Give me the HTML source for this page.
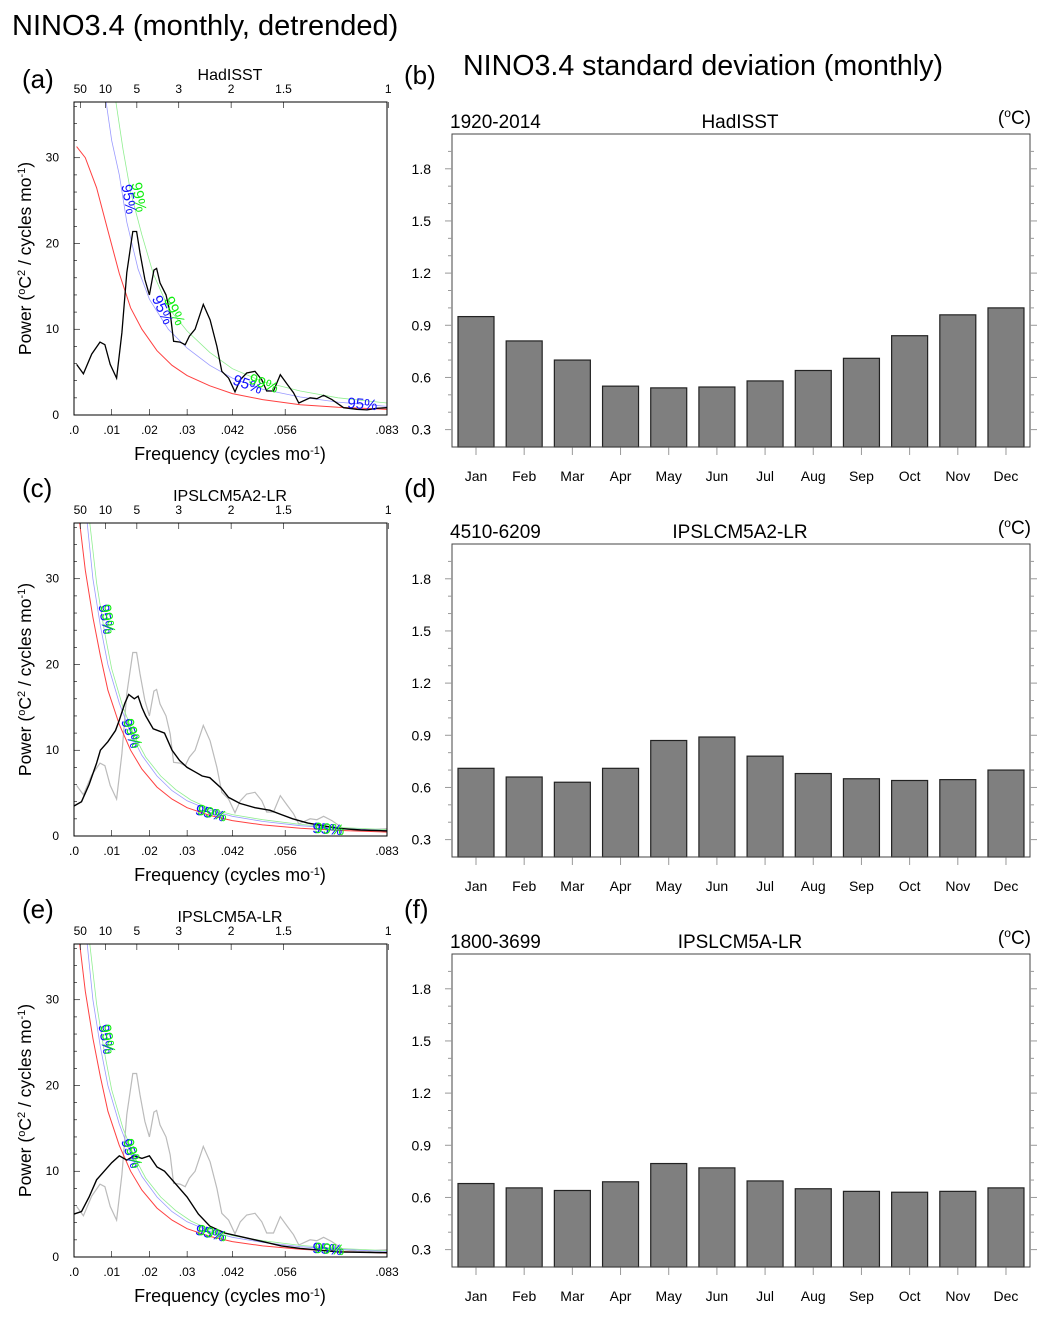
<!DOCTYPE html>
<html><head><meta charset="utf-8">
<style>
body{margin:0;background:#fff;width:1056px;height:1320px;overflow:hidden;font-family:"Liberation Sans",sans-serif}
svg{position:absolute;left:0;top:0}
text{font-family:"Liberation Sans",sans-serif}
</style></head>
<body>
<svg id="fig" width="1056" height="1320" viewBox="0 0 1056 1320">
<text x="12" y="35" font-size="29">NINO3.4 (monthly, detrended)</text>
<text x="463" y="75" font-size="28.6">NINO3.4 standard deviation (monthly)</text>
</svg>
<script>
// ---------- data ----------
const months = ["Jan","Feb","Mar","Apr","May","Jun","Jul","Aug","Sep","Oct","Nov","Dec"];
const sdHad = [0.95,0.81,0.70,0.55,0.54,0.545,0.58,0.64,0.71,0.84,0.96,1.0];
const sdA2 = [0.71,0.66,0.63,0.71,0.87,0.89,0.78,0.68,0.65,0.64,0.645,0.70];
const sdA = [0.68,0.655,0.64,0.69,0.795,0.77,0.695,0.65,0.635,0.63,0.635,0.655];
const barTicks = [0.3,0.6,0.9,1.2,1.5,1.8];
const freqTicks = [0,0.01,0.02,0.03,0.042,0.056,0.083];
const freqTickLabels = [".0",".01",".02",".03",".042",".056",".083"];
const periodTicks = [50,10,5,3,2,1.5,1];
const powerTicks = [0,10,20,30];
const hadF = [.0007,.0025,.0047,.0069,.0082,.0096,.0113,.0127,.014,.0156,.0166,.0175,.0188,.02,.0212,.0219,.0228,.0244,.0255,.0264,.0281,.0295,.0306,.0321,.0343,.0361,.0379,.0392,.041,.0427,.0441,.0458,.048,.0498,.0511,.0529,.0547,.0565,.0582,.0596,.0626,.0644,.0662,.0684,.0715,.075,.0777,.0803,.083];
const hadP = [5.9,4.8,7.1,8.5,8.2,5.9,4.3,9.6,16.6,21.4,21.4,18.9,15.8,14.0,16.9,17.1,15.4,14.0,11.9,8.6,8.5,8.2,9.2,10.0,12.9,11.1,8.0,5.1,4.3,2.7,4.1,4.9,5.1,4.1,2.8,2.8,4.7,3.6,2.6,1.4,2.0,1.9,2.3,1.8,0.85,0.66,0.6,0.78,0.85];
const hadRedF = [.0007,.003,.006,.009,.012,.015,.018,.022,.026,.03,.036,.042,.05,.06,.07,.083];
const hadRedP = [31.3,30,26.5,21.5,16.5,12.5,10,7.5,5.8,4.6,3.4,2.5,1.8,1.2,0.9,0.65];
const hadBlueF = [.0085,.010,.012,.014,.017,.02,.025,.03,.036,.042,.05,.06,.07,.083];
const hadBlueP = [36.5,32,28,22.5,17,13.5,10,7.8,5.8,4.3,3.0,2.1,1.5,1.0];
const hadGreenF = [.0111,.013,.015,.018,.021,.025,.03,.036,.042,.05,.06,.07,.083];
const hadGreenP = [36.5,31,26,21,16.5,12.5,9.8,7.3,5.4,3.9,2.8,2.0,1.4];
const modRedF = [.0015,.003,.005,.007,.009,.012,.015,.018,.022,.026,.03,.036,.042,.05,.06,.07,.083];
const modRedP = [36.5,31,25.5,21,17,13,10,7.8,5.7,4.3,3.3,2.4,1.8,1.3,0.9,0.65,0.45];
const modBlueF = [.0035,.005,.007,.009,.012,.015,.018,.022,.026,.03,.036,.042,.05,.06,.07,.083];
const modBlueP = [36.5,30,24.5,20,15.5,12,9.4,7,5.3,4.1,3.0,2.3,1.7,1.2,0.9,0.65];
const modGreenF = [.0042,.006,.008,.010,.013,.016,.019,.023,.027,.031,.036,.042,.05,.06,.07,.083];
const modGreenP = [36.5,29.5,24,19.5,15,11.7,9.2,7,5.4,4.2,3.2,2.5,1.9,1.35,1.0,0.75];
const a2F = [0,.002,.004,.006,.007,.009,.011,.012,.0135,.0145,.016,.017,.018,.019,.021,.024,.026,.028,.03,.032,.034,.036,.039,.041,.044,.048,.052,.055,.058,.062,.066,.07,.076,.083];
const a2P = [3.5,4,6,8.5,10,11,12.3,13.5,15.5,16.5,16,16.3,15,14,12.5,12,10,8.8,8,7.5,7,6.8,5.6,4.5,3.8,3.3,3,2.5,2,1.5,1.2,0.9,0.7,0.6];
const aF = [0,.002,.004,.006,.008,.01,.012,.014,.016,.018,.02,.022,.024,.027,.03,.033,.036,.04,.045,.05,.055,.06,.065,.07,.083];
const aP = [5,5.3,7,9,10,11,11.8,11.3,11.8,11.5,11.8,10.5,10,8.5,7,5,3.6,2.8,2.3,1.8,1.3,1.0,0.8,0.6,0.5];

const NS = "http://www.w3.org/2000/svg";
const fig = document.getElementById('fig');
function el(tag, attrs, parent){const e=document.createElementNS(NS,tag);for(const k in attrs)e.setAttribute(k,attrs[k]);(parent||fig).appendChild(e);return e;}
function txt(s, attrs, parent){const e=el('text',attrs,parent);e.textContent=s;return e;}

// ---------- spectrum panels ----------
function spectrum(top, letter, name, curves, labels, lblY){
  const L=74,R=387,B=top+313,T=top;
  const xs=f=>L+f/0.083*(R-L);
  const ys=p=>B-p*(B-T)/36.5;
  const g=el('g',{});
  
  
  const pl=txt('('+letter+')',{x:22,y:lblY,'font-size':26},g);
  
  const tt=txt(name,{x:230,y:top-22,'font-size':16,'text-anchor':'middle'},g);
  
  curves.forEach(c=>{
    const d=c.f.map((f,i)=>(i?'L':'M')+xs(f).toFixed(1)+','+ys(c.p[i]).toFixed(1)).join('');
    const p=el('path',{d:d,fill:'none',stroke:c.color,'stroke-width':c.w},g);
    
    
  });
  labels.forEach(l=>{
    const t=txt(l.t,{x:l.x,y:l.y,'font-size':15,fill:l.c,transform:'rotate('+l.r+' '+l.x+' '+l.y+')','text-anchor':'middle'},g);
    
  });
  const fr=el('rect',{x:L,y:T,width:R-L,height:B-T,fill:'none',stroke:'#000','stroke-width':1},g);
  
  for(let v=0;v<=36;v+=2){const maj=v%10===0;el('line',{x1:L,x2:L+(maj?6:3),y1:ys(v),y2:ys(v),stroke:'#000','stroke-width':0.6},g);}
  powerTicks.forEach(v=>{const t=txt(String(v),{x:L-15,y:ys(v)+4,'font-size':12,'text-anchor':'end'},g);
    });
  freqTicks.forEach((f,i)=>{el('line',{x1:xs(f),x2:xs(f),y1:B,y2:B-6,stroke:'#000','stroke-width':0.6},g);
    const t=txt(freqTickLabels[i],{x:xs(f),y:B+19,'font-size':12,'text-anchor':'middle'},g);
    });
  periodTicks.forEach(p=>{const x=xs(1/(p*12));el('line',{x1:x,x2:x,y1:T,y2:T+6,stroke:'#000','stroke-width':0.6},g);
    const t=txt(String(p),{x:x,y:T-9,'font-size':12,'text-anchor':'middle'},g);
    });
  const xt=txt('',{x:230,y:B+45,'font-size':18,'text-anchor':'middle'},g);
  xt.innerHTML='Frequency (cycles mo<tspan dy="-6" font-size="11">-1</tspan><tspan dy="6">)</tspan>';
  
  const cy=(T+B)/2;
  const yt=txt('',{x:31,y:cy,'font-size':17.5,'text-anchor':'middle',transform:'rotate(-90 31 '+cy+')'},g);
  yt.innerHTML='Power (<tspan dy="-6" font-size="11">o</tspan><tspan dy="6">C</tspan><tspan dy="-6" font-size="11">2</tspan><tspan dy="6"> / cycles mo</tspan><tspan dy="-6" font-size="11">-1</tspan><tspan dy="6">)</tspan>';
  
}
spectrum(102,'a','HadISST',[
  {f:hadRedF,p:hadRedP,color:'#ff4040',w:1,name:'red-noise-curve'},
  {f:hadBlueF,p:hadBlueP,color:'#9a9aff',w:0.8,name:'95-percent-curve'},
  {f:hadGreenF,p:hadGreenP,color:'#90ee90',w:0.8,name:'99-percent-curve'},
  {f:hadF,p:hadP,color:'#000',w:1.3,name:'hadisst-spectrum'}],
  [{t:'95%',x:124,y:200,r:80,c:'#1010ff'},{t:'99%',x:134,y:198,r:80,c:'#10ee10'},
   {t:'95%',x:158,y:312,r:65,c:'#1010ff'},{t:'99%',x:170,y:313,r:65,c:'#10ee10'},
   {t:'95%',x:246,y:389,r:20,c:'#1010ff'},{t:'99%',x:262,y:388,r:20,c:'#10ee10'},
   {t:'95%',x:362,y:409,r:5,c:'#1010ff'}],88);
function modelLabels(y0){return [
  {t:'95%',x:101,y:y0,r:80,c:'#1010ff'},{t:'99%',x:103,y:y0,r:80,c:'#10ee10'},
  {t:'95%',x:126,y:y0+115,r:70,c:'#1010ff'},{t:'99%',x:128,y:y0+115,r:70,c:'#10ee10'},
  {t:'95%',x:209,y:y0+198,r:15,c:'#1010ff'},{t:'99%',x:211,y:y0+198,r:15,c:'#10ee10'},
  {t:'95%',x:327,y:y0+214,r:5,c:'#1010ff'},{t:'99%',x:329,y:y0+214,r:5,c:'#10ee10'}];}
spectrum(523,'c','IPSLCM5A2-LR',[
  {f:hadF,p:hadP,color:'#bbb',w:1.2,name:'hadisst-reference-spectrum'},
  {f:modRedF,p:modRedP,color:'#ff4040',w:1,name:'red-noise-curve'},
  {f:modBlueF,p:modBlueP,color:'#9a9aff',w:0.8,name:'95-percent-curve'},
  {f:modGreenF,p:modGreenP,color:'#90ee90',w:0.8,name:'99-percent-curve'},
  {f:a2F,p:a2P,color:'#000',w:1.4,name:'model-spectrum'}],modelLabels(620),497);
spectrum(944,'e','IPSLCM5A-LR',[
  {f:hadF,p:hadP,color:'#bbb',w:1.2,name:'hadisst-reference-spectrum'},
  {f:modRedF,p:modRedP,color:'#ff4040',w:1,name:'red-noise-curve'},
  {f:modBlueF,p:modBlueP,color:'#9a9aff',w:0.8,name:'95-percent-curve'},
  {f:modGreenF,p:modGreenP,color:'#90ee90',w:0.8,name:'99-percent-curve'},
  {f:aF,p:aP,color:'#000',w:1.4,name:'model-spectrum'}],modelLabels(1040),918);

// ---------- bar panels ----------
function bars(top, letter, period, name, vals, lblY){
  const L=452,R=1030,T=top,B=top+313;
  const ys=v=>B-(v-0.2)*(B-T)/1.8;
  const xs=i=>476+i*48.18;
  const g=el('g',{});
  
  
  const pl=txt('('+letter+')',{x:404,y:lblY,'font-size':26},g);
  
  const pt=txt(period,{x:450,y:top-6,'font-size':19},g);
  
  const nt=txt(name,{x:740,y:top-6,'font-size':19,'text-anchor':'middle'},g);
  
  const ut=txt('',{x:1031,y:top-10,'font-size':19,'text-anchor':'end'},g);
  ut.innerHTML='(<tspan dy="-7" font-size="12">o</tspan><tspan dy="7">C)</tspan>';
  
  vals.forEach((v,i)=>{
    const r=el('rect',{x:xs(i)-18,y:ys(v),width:36,height:B-ys(v),fill:'#7f7f7f',stroke:'#222','stroke-width':1.2},g);
    
    
    el('line',{x1:xs(i),x2:xs(i),y1:B,y2:B+8,stroke:'#999','stroke-width':1},g);
    const t=txt(months[i],{x:xs(i),y:B+34,'font-size':14,'text-anchor':'middle'},g);
    
  });
  const fr=el('rect',{x:L,y:T,width:R-L,height:B-T,fill:'none',stroke:'#444','stroke-width':1},g);
  
  for(let k=3;k<=19;k++){const v=k/10;const maj=k%3===0;
    el('line',{x1:L,x2:L-(maj?7:4),y1:ys(v),y2:ys(v),stroke:'#999','stroke-width':1},g);
    el('line',{x1:R,x2:R+(maj?7:4),y1:ys(v),y2:ys(v),stroke:'#999','stroke-width':1},g);}
  barTicks.forEach(v=>{const t=txt(v.toFixed(1),{x:431,y:ys(v)+5,'font-size':14,'text-anchor':'end'},g);
    });
}
bars(134,'b','1920-2014','HadISST',sdHad,84);
bars(544,'d','4510-6209','IPSLCM5A2-LR',sdA2,497);
bars(954,'f','1800-3699','IPSLCM5A-LR',sdA,918);
</script>
</body></html>
